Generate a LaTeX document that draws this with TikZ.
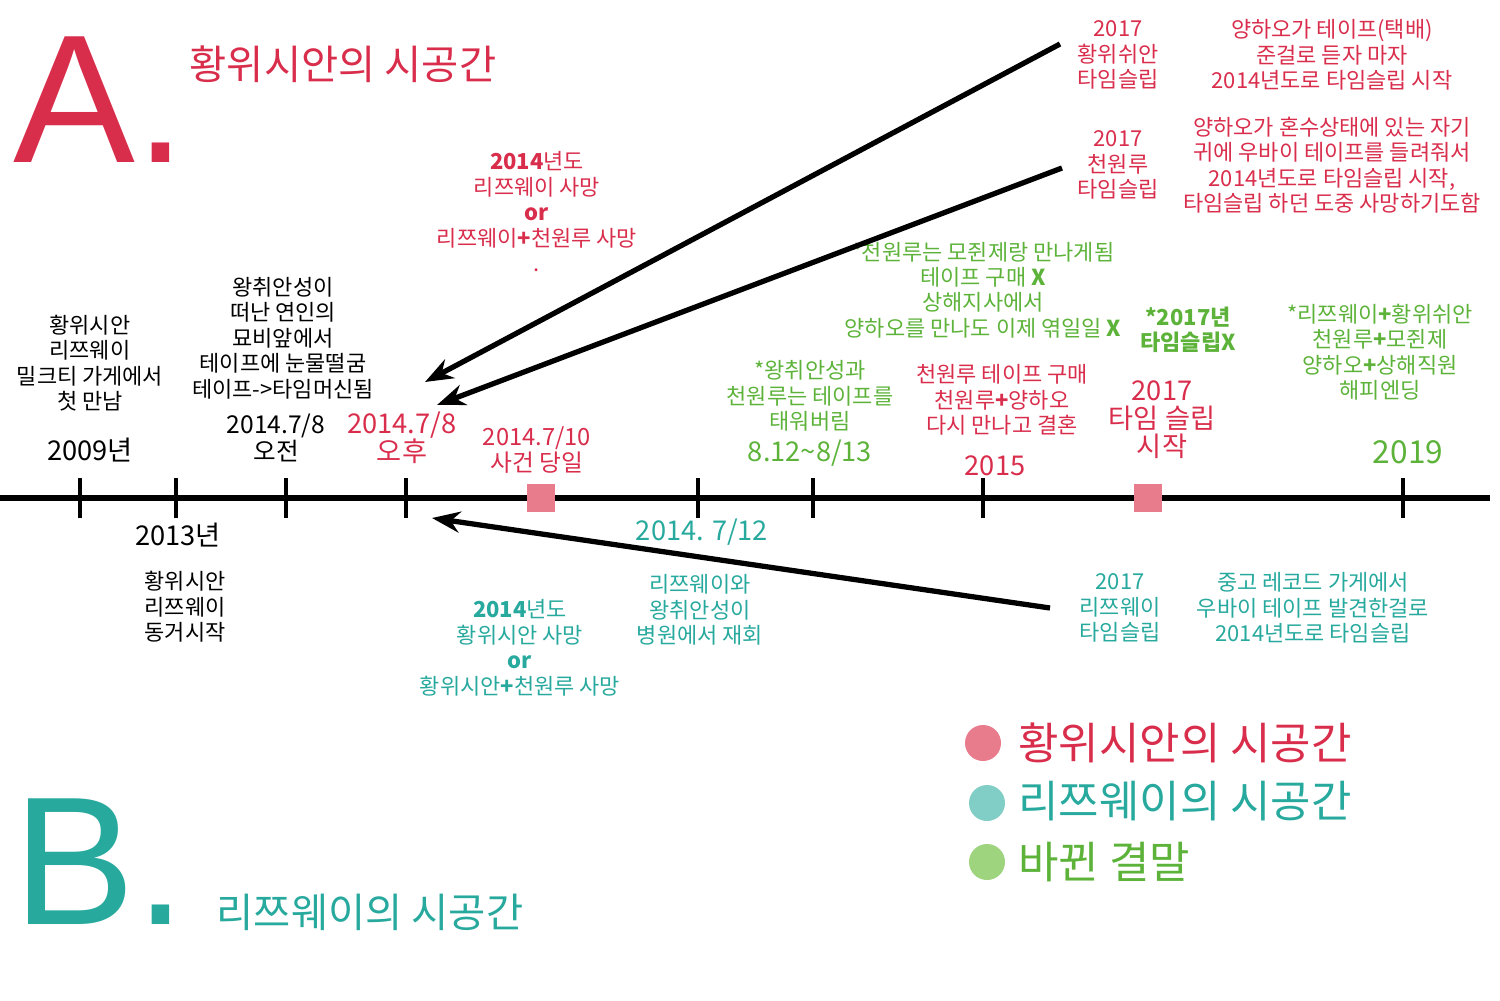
\documentclass[tikz,border=0pt]{standalone}
\usetikzlibrary{arrows.meta}
\usepackage{fontspec}
\setmainfont{Noto Sans CJK KR}
\newfontfamily\latfont{Liberation Sans}
\definecolor{cr}{HTML}{D92D4C}
\definecolor{ct}{HTML}{28A99E}
\definecolor{cg}{HTML}{5DB33A}
\definecolor{lr}{HTML}{E97C8C}
\definecolor{lt}{HTML}{80CEC6}
\definecolor{lg}{HTML}{9ED47E}
\begin{document}
\begin{tikzpicture}[x=0.02cm,y=-0.02cm,
 lbl/.style={align=center,font=\fontsize{12.5}{14.5}\selectfont,inner sep=0pt},
 big/.style={align=center,font=\fontsize{15.5}{16}\selectfont,inner sep=0pt},
 tk/.style={line width=2.5pt},
 arr/.style={line width=3pt,-{Stealth[length=16pt,width=12pt]}}]
\useasboundingbox (0,0) rectangle (1500,1000);
\draw[line width=3.5pt] (0,498) -- (1490,498);
\foreach \x/\n in {80/t1,176/t2,286/t3,406/t4,698/t5,813/t6,983/t7,1403/t8}
  \draw[tk] (\x,478) -- (\x,518);
\fill[lr] (527,484) rectangle (555,512);
\fill[lr] (1134,484) rectangle (1162,512);
% headings
\node[text=cr,font=\latfont\fontsize{104}{104}\selectfont,inner sep=0pt] (A) at (100,100) {A.};
\node[text=cr,font=\fontsize{23}{25}\selectfont,inner sep=0pt] (At) at (343,64) {황위시안의 시공간};
\node[text=ct,font=\latfont\fontsize{104}{104}\selectfont,inner sep=0pt] (B) at (100,862) {B.};
\node[text=ct,font=\fontsize{23}{25}\selectfont,inner sep=0pt] (Bt) at (370,912) {리쯔웨이의 시공간};
% legend
\fill[lr] (983,743) circle (18);
\fill[lt] (987,803) circle (18);
\fill[lg] (987,862) circle (18);
\node[anchor=west,text=cr,font=\fontsize{25}{27}\selectfont,inner sep=0pt] (L1) at (1018,743) {황위시안의 시공간};
\node[anchor=west,text=ct,font=\fontsize{25}{27}\selectfont,inner sep=0pt] (L2) at (1018,801) {리쯔웨이의 시공간};
\node[anchor=west,text=cg,font=\fontsize{25}{27}\selectfont,inner sep=0pt] (L3) at (1018,862) {바뀐 결말};
% black
\node[lbl] (b1) at (90,363) {황위시안\\리쯔웨이\\밀크티 가게에서\\첫 만남};
\node[big] (b2) at (90,450) {2009년};
\node[big] (b3) at (178,535) {2013년};
\node[lbl,align=left] (b4) at (185,607) {황위시안\\리쯔웨이\\동거시작};
\node[lbl] (b5) at (283,338) {왕취안성이\\떠난 연인의\\묘비앞에서\\테이프에 눈물떨굼\\테이프->타임머신됨};
\node[big,font=\fontsize{14}{15}\selectfont] (b6) at (276,438) {2014.7/8\\오전};
% red
\node[big,text=cr] (r1) at (402,438) {2014.7/8\\오후};
\node[lbl,text=cr,font=\fontsize{13.5}{15}\selectfont] (r2) at (537,450) {2014.7/10\\사건 당일};
\node[lbl,text=cr] (r3) at (537,212) {\textbf{2014}년도\\리쯔웨이 사망\\\textbf{or}\\리쯔웨이\textbf{+}천원루 사망\\.};
\node[lbl,text=cr] (r4) at (1118,55) {2017\\황위쉬안\\타임슬립};
\node[lbl,text=cr] (r5) at (1332,55) {양하오가 테이프(택배)\\준걸로 듣자 마자\\2014년도로 타임슬립 시작};
\node[lbl,text=cr] (r6) at (1118,165) {2017\\천원루\\타임슬립};
\node[lbl,text=cr] (r7) at (1332,165) {양하오가 혼수상태에 있는 자기\\귀에 우바이 테이프를 들려줘서\\2014년도로 타임슬립 시작,\\타임슬립 하던 도중 사망하기도함};
\node[lbl,text=cr] (r8) at (1002,400) {천원루 테이프 구매\\천원루\textbf{+}양하오\\다시 만나고 결혼};
\node[big,text=cr] (r9) at (995,466) {2015};
\node[big,text=cr] (r10) at (1162,420) {2017\\타임 슬립\\시작};
% green
\node[lbl,text=cg] (g1) at (983,290) {*천원루는 모쥔제랑 만나게됨\\테이프 구매 \textbf{X}\\상해지사에서\\양하오를 만나도 이제 엮일일 \textbf{X}};
\node[lbl,text=cg,font=\bfseries\fontsize{12.5}{14.5}\selectfont] (g2) at (1188,330) {*2017년\\타임슬립X};
\node[lbl,text=cg] (g3) at (1380,352) {*리쯔웨이\textbf{+}황위쉬안\\천원루\textbf{+}모쥔제\\양하오\textbf{+}상해직원\\해피엔딩};
\node[lbl,text=cg] (g4) at (810,396) {*왕취안성과\\천원루는 테이프를\\태워버림};
\node[big,text=cg] (g5) at (810,453) {8.12\textasciitilde8/13};
\node[big,text=cg,font=\fontsize{18}{19}\selectfont] (g6) at (1408,452) {2019};
% teal
\node[big,text=ct] (c1) at (702,532) {2014. 7/12};
\node[lbl,text=ct] (c2) at (520,648) {\textbf{2014}년도\\황위시안 사망\\\textbf{or}\\황위시안\textbf{+}천원루 사망};
\node[lbl,text=ct] (c3) at (700,610) {리쯔웨이와\\왕취안성이\\병원에서 재회};
\node[lbl,text=ct] (c4) at (1120,608) {2017\\리쯔웨이\\타임슬립};
\node[lbl,text=ct] (c5) at (1313,608) {중고 레코드 가게에서\\우바이 테이프 발견한걸로\\2014년도로 타임슬립};
% arrows
\coordinate (s1) at (1060,44); \coordinate (e1) at (425,382);
\coordinate (s2) at (1062,168); \coordinate (e2) at (437,405);
\coordinate (s3) at (1050,608); \coordinate (e3) at (432,518);
\draw[arr] (s1) -- (e1);
\draw[arr] (s2) -- (e2);
\draw[arr] (s3) -- (e3);
\end{tikzpicture}
\end{document}
